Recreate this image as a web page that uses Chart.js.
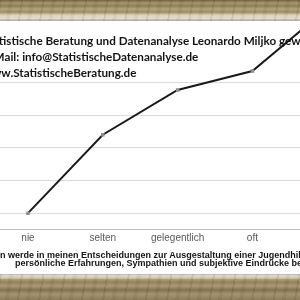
<!DOCTYPE html>
<html>
<head>
<meta charset="utf-8">
<script src="https://cdn.jsdelivr.net/npm/chart.js@4"></script>
<style>
  html, body { margin: 0; padding: 0; background: #fff; }
  #frame { position: relative; width: 300px; height: 300px; overflow: hidden; background: #fff; }
  #chart-box { position: absolute; left: -20px; top: 0; width: 400px; height: 300px; }
  .wm {
    position: absolute; left: -17.5px; top: 32px; white-space: nowrap;
    font-family: Lato, sans-serif; font-weight: 700; font-size: 11.7px; line-height: 16px; color: #141414;
  }
  .note {
    position: absolute; white-space: nowrap;
    font-family: 'Liberation Sans', Arial, sans-serif; font-weight: 700; font-size: 9px; line-height: 8.5px; color: #141414;
  }
  .band-top {
    position: absolute; left: 0; top: 0; width: 300px; height: 21px;
    background:
      repeating-linear-gradient(100deg, rgba(70,55,25,0.10) 0 2px, rgba(255,245,215,0.04) 2px 9px, rgba(70,55,25,0.05) 9px 13px, rgba(255,245,215,0.03) 13px 21px),
      linear-gradient(to bottom, #6e5e3a 0px, #a4936a 3px, #8b7b55 6px, #b1a27c 9px, #998a63 12px, #c2b594 14px, #dbd2bc 15px, #e4dccb 19px, #a2a2a2 20px, #c2c2c2 21px);
  }
  .band-bottom {
    position: absolute; left: 0; top: 274px; width: 300px; height: 26px;
    background:
      repeating-linear-gradient(100deg, rgba(70,55,25,0.10) 0 2px, rgba(255,245,215,0.04) 2px 9px, rgba(70,55,25,0.05) 9px 13px, rgba(255,245,215,0.03) 13px 21px),
      linear-gradient(to bottom, #a8a8a8 0px, #ded6c6 1px, #d6ccb6 4px, #b0a07c 5px, #8e7e58 8px, #a79672 12px, #7e6e4c 16px, #a2906c 20px, #887855 26px);
  }
</style>
</head>
<body>
<div id="frame">
  <div id="chart-box"><canvas id="chart"></canvas></div>
  <div class="wm">Statistische Beratung und Datenanalyse Leonardo Miljko gew<br>E-Mail: info@StatistischeDatenanalyse.de<br>www.StatistischeBeratung.de</div>
  <div class="note" style="left:0; top:251px;">n werde in meinen Entscheidungen zur Ausgestaltung einer Jugendhilf</div>
  <div class="note" style="left:15px; top:259px;">persönliche Erfahrungen, Sympathien und subjektive Eindrücke be</div>
  <div class="band-top"></div>
  <div class="band-bottom"></div>
</div>
<script>
const categories = ['nie', 'selten', 'gelegentlich', 'oft', 'immer']
const values = [1.0, 3.4, 4.77, 5.35, 7.26]
// sichtbare Hilfslinien der y-Achse
const gridValues = [1, 2, 3, 4, 5]

Chart.defaults.font.family = "'Liberation Sans', Arial, sans-serif"

new Chart(document.getElementById('chart'), {
  type: 'line',
  data: {
    labels: categories,
    datasets: [{
      data: values,
      borderColor: '#1a1a1a',
      borderWidth: 2,
      tension: 0,
      pointStyle: 'rect',
      pointRadius: 2.5,
      pointBorderWidth: 0,
      pointBackgroundColor: '#8c8c8c',
    }],
  },
  options: {
    responsive: true,
    maintainAspectRatio: false,
    animation: false,
    layout: { padding: { left: 10.6, right: 15.4, top: 3, bottom: 52.5 } },
    plugins: { legend: { display: false }, tooltip: { enabled: false } },
    scales: {
      x: {
        offset: true,
        grid: { display: false, drawTicks: false },
        border: { display: true, color: '#bdbdbd', width: 1 },
        ticks: { color: '#595959', font: { size: 10 }, padding: 3, autoSkip: false, maxRotation: 0 },
      },
      y: {
        min: 0.5,
        max: 7.4,
        grid: { color: '#dcdcdc', drawTicks: false },
        border: { display: false },
        ticks: { display: false },
        afterBuildTicks: scale => { scale.ticks = gridValues.map(v => ({ value: v })) },
      },
    },
  },
})
</script>
</body>
</html>
